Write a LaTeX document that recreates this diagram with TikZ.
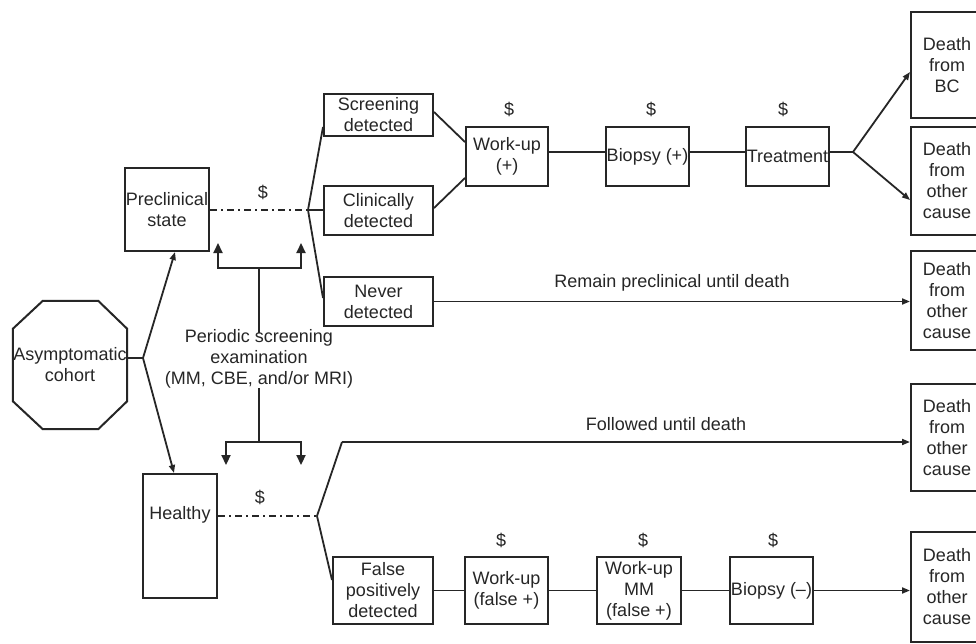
\documentclass[tikz,border=0pt]{standalone}
\usepackage{fontspec}
\setmainfont{Liberation Sans}
\usetikzlibrary{arrows.meta,calc}
\definecolor{ink}{HTML}{262626}
\begin{document}
\begin{tikzpicture}[x=1pt,y=-1pt,
  every node/.style={font=\fontsize{18}{21}\selectfont, text=ink},
  box/.style={draw=ink, line width=2pt, align=center, inner sep=0pt},
  ln/.style={draw=ink, line width=1.8pt},
  arr/.style={ln, -{Triangle[length=8pt,width=6pt]}},
  barr/.style={ln, line width=2.2pt, -{Triangle[length=10pt,width=9pt]}},
  dd/.style={ln, dash pattern=on 7pt off 4pt on 2pt off 4pt},
  lbl/.style={inner sep=0pt}]
\useasboundingbox (0,0) rectangle (976,643);
\fill[white] (0,0) rectangle (976,643);

% octagon
\node[lbl, align=center, minimum width=114pt, minimum height=128pt] (oct) at (70,365) {Asymptomatic\\cohort};
\draw[ln, line width=2pt]
  ($(oct.north west)+(30,0)$) -- ($(oct.north east)+(-29,0)$) --
  ($(oct.north east)+(0,28)$) -- ($(oct.south east)+(0,-28)$) --
  ($(oct.south east)+(-29,0)$) -- ($(oct.south west)+(30,0)$) --
  ($(oct.south west)+(0,-28)$) -- ($(oct.north west)+(0,28)$) -- cycle;

% boxes
\node[box, minimum width=84pt, minimum height=83pt] (pre) at (167,209.5) {Preclinical\\state};
\node[box, minimum width=74pt, minimum height=124pt] (hea) at (180,536) {};
\node[lbl] (heat) at (180,515) {Healthy};

\node[box, minimum width=109pt, minimum height=42pt] (scr) at (378.5,115) {Screening\\detected};
\node[box, minimum width=109pt, minimum height=49pt] (cli) at (378.5,210.5) {Clinically\\detected};
\node[box, minimum width=109pt, minimum height=49pt] (nev) at (378.5,301.5) {Never\\detected};

\node[box, minimum width=82pt, minimum height=59pt] (wu) at (507,156.5) {Work-up\\(+)};
\node[box, minimum width=83pt, minimum height=59pt] (bio) at (647.5,156.5) {Biopsy (+)};
\node[box, minimum width=83pt, minimum height=59pt] (tre) at (787.5,156.5) {Treatment};

\node[box, minimum width=100pt, minimum height=67pt] (fp) at (383,590.5) {False\\positively\\detected};
\node[box, minimum width=83pt, minimum height=67pt] (wuf) at (506.5,590.5) {Work-up\\(false +)};
\node[box, minimum width=84pt, minimum height=67pt] (mm) at (639,590.5) {Work-up\\MM\\(false +)};
\node[box, minimum width=83pt, minimum height=67pt] (bion) at (771.5,590.5) {Biopsy (--)};

\node[box, minimum width=72pt, minimum height=106pt] (d1) at (947,65) {Death\\from\\BC};
\node[box, minimum width=72pt, minimum height=108pt] (d2) at (947,181) {Death\\from\\other\\cause};
\node[box, minimum width=72pt, minimum height=99pt] (d3) at (947,300.5) {Death\\from\\other\\cause};
\node[box, minimum width=72pt, minimum height=107pt] (d4) at (947,437.5) {Death\\from\\other\\cause};
\node[box, minimum width=72pt, minimum height=110pt] (d5) at (947,587) {Death\\from\\other\\cause};

% cost labels
\node[lbl] (c0) at (263,192) {\$};
\node[lbl] (c1) at (260,497) {\$};
\node[lbl] (c2) at (509,109) {\$};
\node[lbl] (c3) at (651,109) {\$};
\node[lbl] (c4) at (783,109) {\$};
\node[lbl] (c5) at (501,540) {\$};
\node[lbl] (c6) at (643,540) {\$};
\node[lbl] (c7) at (773,540) {\$};

% text labels
\node[lbl] (rem) at (672,283) {Remain preclinical until death};
\node[lbl] (fol) at (666,424) {Followed until death};
\node[lbl, align=center] (per) at (259,359) {Periodic screening\\examination\\(MM, CBE, and/or MRI)};

% coordinates
\coordinate (s1) at (143,358);
\coordinate (b1) at (308,210);
\coordinate (ml) at (0,152);
\coordinate (b2) at (853,152);
\coordinate (ht) at (0,516);
\coordinate (b3) at (317,516);
\coordinate (k3) at (342,442);
\coordinate (pt1) at (259,333);
\coordinate (pt2) at (259,388);
\coordinate (ub) at (259,268);
\coordinate (ua1) at (218,243);
\coordinate (ua2) at (301,243);
\coordinate (lb) at (259,442);
\coordinate (la1) at (226,465);
\coordinate (la2) at (301,465);

% left fan
\draw[ln] (s1 -| oct.east) -- (s1);
\draw[arr] (s1) -- ($(pre.south)+(8,0)$);
\draw[arr] (s1) -- ($(hea.north)+(-6,0)$);

% upper branch
\draw[dd] (b1 -| pre.east) -- (b1);
\draw[ln] (b1) -- ($(scr.west)+(0,12)$);
\draw[ln] (b1) -- (b1 -| cli.west);
\draw[ln] (b1) -- ($(nev.west)+(0,-3.5)$);
\draw[ln] ($(scr.east)+(0,-3)$) -- ($(wu.west)+(0,-14.5)$);
\draw[ln] ($(cli.east)+(0,-2.5)$) -- ($(wu.west)+(0,21.5)$);
\draw[ln] (wu.east |- ml) -- (bio.west |- ml);
\draw[ln] (bio.east |- ml) -- (tre.west |- ml);
\draw[ln] (tre.east |- ml) -- (b2);
\draw[arr] (b2) -- ($(d1.west)+(0,7)$);
\draw[arr] (b2) -- ($(d2.west)+(0,19)$);
\draw[arr] (nev.east) -- (nev.east -| d3.west);

% lower branch
\draw[dd] (ht -| hea.east) -- (b3);
\draw[ln] (b3) -- (k3);
\draw[arr] (k3) -- (k3 -| d4.west);
\draw[ln] (b3) -- ($(fp.west)+(0,-10.5)$);
\draw[ln] (fp.east) -- (wuf.west);
\draw[ln] (wuf.east) -- (mm.west);
\draw[ln] (mm.east) -- (bion.west);
\draw[arr] (bion.east) -- (bion.east -| d5.west);

% screening brackets
\draw[ln, line width=2.2pt] (pt1) -- (ub);
\draw[barr] (ub) -| (ua1);
\draw[barr] (ub) -| (ua2);
\draw[ln, line width=2.2pt] (pt2) -- (lb);
\draw[barr] (lb) -| (la1);
\draw[barr] (lb) -| (la2);
\end{tikzpicture}
\end{document}
